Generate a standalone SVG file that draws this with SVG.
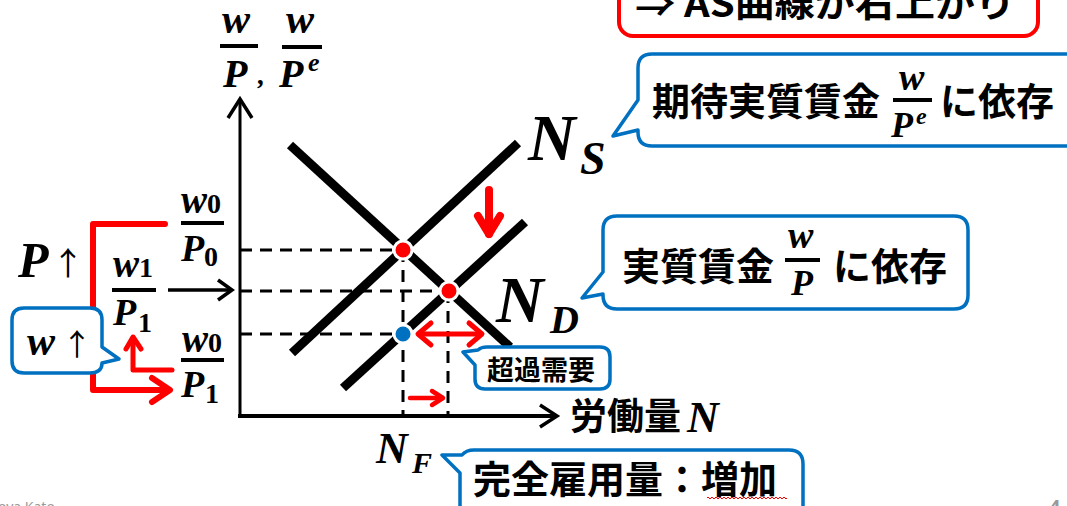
<svg xmlns="http://www.w3.org/2000/svg" width="1067" height="506" viewBox="0 0 1067 506">
<style>
.m{font-family:"Liberation Serif","DejaVu Serif",serif;font-weight:bold;font-style:italic;fill:#000}
.d{font-family:"Liberation Serif","DejaVu Serif",serif;font-weight:bold;font-style:normal;fill:#000}
.jp{font-family:"Noto Sans CJK JP","Noto Sans",sans-serif;font-weight:bold;fill:#000}
.arr{font-family:"Noto Sans CJK JP","DejaVu Sans",sans-serif;font-weight:normal;fill:#000}
.bar{stroke:#000;stroke-width:4}
.co{fill:#fff;stroke:#0070C0;stroke-width:3.5;stroke-linejoin:round}
.curve{stroke:#000;stroke-width:9;fill:none}
.dash{stroke:#000;stroke-width:3;stroke-dasharray:12 8;fill:none}
.red{stroke:#FF0000;fill:none;stroke-linecap:round;stroke-linejoin:round}
.axis{stroke:#000;fill:none;stroke-linejoin:miter}
</style>
<rect width="1067" height="506" fill="#fff"/>

<g id="red-box">
<rect x="619" y="-40" width="419" height="76" rx="14" fill="#fff" stroke="#FF0000" stroke-width="4"/>
<text class="jp" x="635" y="17" font-size="36" textLength="380" lengthAdjust="spacingAndGlyphs">⇒ AS曲線が右上がり</text>
</g>

<g id="axes">
<path class="axis" d="M240,416 V100" stroke-width="3"/>
<path class="axis" d="M228,118 L240,99 L252,118" stroke-width="3.5"/>
<path class="axis" d="M238,416 H556" stroke-width="4"/>
<path class="axis" d="M540,405 L557,416 L540,427" stroke-width="3.5"/>
</g>

<g id="connectors">
<path class="dash" d="M240,250 H403"/>
<path class="dash" d="M240,291 H449"/>
<path class="dash" d="M240,334 H403"/>
<path class="dash" d="M403,250 V416"/>
<path class="dash" d="M448,291 V416"/>
<line class="curve" x1="292" y1="353" x2="518" y2="143"/>
<line class="curve" x1="343" y1="388" x2="525" y2="222"/>
<line class="curve" x1="290" y1="145" x2="510" y2="347"/>
<path class="axis" d="M168,290 H230" stroke-width="3.5"/>
<path class="axis" d="M218,280 L232,290 L218,300" stroke-width="3.5"/>
<path class="red" d="M165,224 H93 V390 H168" stroke-width="6" stroke-linecap="butt"/>
<path class="red" d="M152,378 L170,390 L152,402" stroke-width="6"/>
<path class="red" d="M172,370 H133 V338" stroke-width="5" stroke-linecap="butt"/>
<path class="red" d="M126,349 L133,337 L141,349" stroke-width="5"/>
<path class="red" d="M489,190 V234" stroke-width="8" stroke-linecap="butt"/>
<path class="red" d="M478,216 L489,234 L500,216" stroke-width="8"/>
<path class="red" d="M420,334 H480" stroke-width="5"/>
<path class="red" d="M431,323 L418,334 L431,345" stroke-width="5"/>
<path class="red" d="M469,323 L482,334 L469,345" stroke-width="5"/>
<path class="red" d="M410,398 H441" stroke-width="4.5"/>
<path class="red" d="M432,391 L443,398 L432,405" stroke-width="4.5"/>
</g>

<g id="points">
<circle cx="403" cy="250" r="9" fill="#FF0000" stroke="#fff" stroke-width="3"/>
<circle cx="449" cy="291" r="9" fill="#FF0000" stroke="#fff" stroke-width="3"/>
<circle cx="403" cy="334" r="9" fill="#0070C0" stroke="#fff" stroke-width="3"/>
</g>

<g id="axis-label">
<text class="m" x="222" y="33" font-size="42">w</text>
<line class="bar" x1="220" y1="46" x2="258" y2="46"/>
<text class="m" x="223" y="87" font-size="40">P</text>
<text class="m" x="258" y="84" font-size="28">,</text>
<text class="m" x="286" y="33" font-size="42">w</text>
<line class="bar" x1="282" y1="47" x2="322" y2="47"/>
<text class="m" x="279" y="87" font-size="40">P</text>
<text class="m" x="308" y="71" font-size="26">e</text>
</g>

<g id="label-N">
<text class="jp" x="570" y="430" font-size="37">労働量</text>
<text class="m" x="687" y="432" font-size="44">N</text>
</g>

<g id="label-NS">
<text class="m" x="528" y="160" font-size="66">N</text>
<text class="m" x="580" y="174" font-size="46">S</text>
</g>

<g id="label-ND">
<text class="m" x="496" y="322" font-size="66">N</text>
<text class="m" x="550" y="333" font-size="40">D</text>
</g>

<g id="label-NF">
<text class="m" x="376" y="463" font-size="44">N</text>
<text class="m" x="412" y="473" font-size="30">F</text>
</g>

<g id="frac-w0P0">
<text class="m" x="181" y="213" font-size="39">w</text>
<text class="d" x="207" y="213" font-size="28">0</text>
<line class="bar" x1="181" y1="223" x2="224" y2="223"/>
<text class="m" x="181" y="261" font-size="38">P</text>
<text class="d" x="204" y="266" font-size="28">0</text>
</g>

<g id="frac-w1P1">
<text class="m" x="113" y="277" font-size="39">w</text>
<text class="d" x="139" y="277" font-size="28">1</text>
<line class="bar" x1="112" y1="290" x2="156" y2="290"/>
<text class="m" x="113" y="325" font-size="38">P</text>
<text class="d" x="138" y="332" font-size="28">1</text>
</g>

<g id="frac-w0P1">
<text class="m" x="182" y="352" font-size="39">w</text>
<text class="d" x="208" y="352" font-size="28">0</text>
<line class="bar" x1="181" y1="360" x2="224" y2="360"/>
<text class="m" x="181" y="397" font-size="38">P</text>
<text class="d" x="205" y="403" font-size="28">1</text>
</g>

<g id="label-P-up">
<text class="m" x="18" y="277" font-size="50">P</text>
<text class="arr" x="52" y="275" font-size="32">↑</text>
</g>

<g id="callout-w-up">
<path class="co" d="M24,308 H90 Q102,308 102,320 V347 L119,359 L102,363 Q102,373 90,373 H24 Q12,373 12,361 V320 Q12,308 24,308 Z"/>
<text class="m" x="27" y="355" font-size="42">w</text>
<text class="arr" x="62" y="355" font-size="30">↑</text>
</g>

<g id="callout-expected">
<path class="co" d="M652,54 H1085 V146 H652 Q638,146 638,132 V130 L613,136 L638,100 V68 Q638,54 652,54 Z"/>
<text class="jp" x="652" y="115" font-size="38">期待実質賃金</text>
<text class="m" x="899" y="90" font-size="38">w</text>
<line class="bar" x1="893" y1="100" x2="932" y2="100" stroke-width="3.5"/>
<text class="m" x="891" y="137" font-size="36">P</text>
<text class="m" x="916" y="124" font-size="24">e</text>
<text class="jp" x="940" y="115" font-size="38">に依存</text>
</g>

<g id="callout-real">
<path class="co" d="M617,216 H954 Q968,216 968,230 V295 Q968,309 954,309 H617 Q603,309 603,295 V294 L582,298 L603,272 V230 Q603,216 617,216 Z"/>
<text class="jp" x="622" y="280" font-size="38">実質賃金</text>
<text class="m" x="788" y="248" font-size="38">w</text>
<line class="bar" x1="785" y1="260" x2="820" y2="260" stroke-width="3.5"/>
<text class="m" x="791" y="295" font-size="36">P</text>
<text class="jp" x="833" y="280" font-size="38">に依存</text>
</g>

<g id="callout-excess">
<path class="co" d="M487,347 H600 Q610,347 610,357 V379 Q610,389 600,389 H485 Q475,389 475,379 V365 L463,352 L478,350 Q481,347 487,347 Z"/>
<text class="jp" x="487" y="380" font-size="27">超過需要</text>
</g>

<g id="callout-full-employment">
<path class="co" d="M474,450 H789 Q803,450 803,464 V530 H460 V473 L442,455 L462,455 Q466,450 474,450 Z"/>
<text class="jp" x="473" y="493" font-size="38">完全雇用量：増加</text>
<path d="M707,498 q1,-2 2,0 t2,0 t2,0 t2,0 t2,0 t2,0 t2,0 t2,0 t2,0 t2,0 t2,0 t2,0 t2,0 t2,0 t2,0 t2,0 t2,0 t2,0 t2,0 t2,0 t2,0 t2,0 t2,0 t2,0 t2,0 t2,0 t2,0 t2,0 t2,0 t2,0 t2,0 t2,0 t2,0 t2,0 t2,0 t2,0 t2,0 t2,0 t2,0 t2,0" fill="none" stroke="#FF0000" stroke-width="1"/>
</g>

<g id="footer">
<text x="-2" y="512" font-family="Noto Sans, sans-serif" font-size="14" fill="#999">oya Kato</text>
<text x="1049" y="514" font-family="Noto Sans, sans-serif" font-weight="bold" font-size="20" fill="#999">4</text>
</g>
</svg>
